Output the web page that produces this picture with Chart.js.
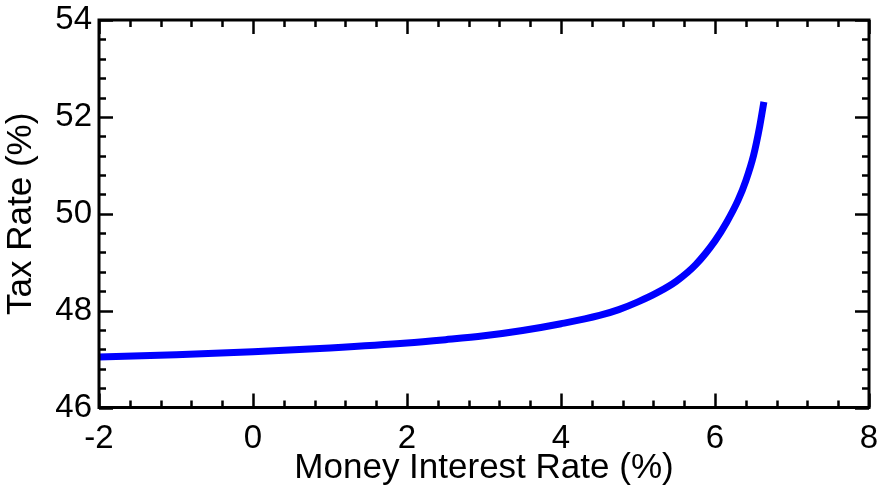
<!DOCTYPE html>
<html>
<head>
<meta charset="utf-8">
<script src="https://cdn.jsdelivr.net/npm/chart.js@4/dist/chart.umd.min.js"></script>
<style>
  html, body { margin: 0; padding: 0; background: #fff; }
  #wrap { width: 880px; height: 491px; }
</style>
</head>
<body>
<div id="wrap"><canvas id="c" width="880" height="491"></canvas></div>
<script>
// Money interest rate (%) and the corresponding tax rate (%)
const interestRate = [-2, -1, 0, 1, 2, 2.5, 3, 3.5, 4, 4.5, 4.75, 5, 5.25, 5.5, 5.75, 6, 6.15, 6.3, 6.4, 6.5, 6.58, 6.635];
const taxRate      = [47.04, 47.09, 47.15, 47.23, 47.33, 47.40, 47.48, 47.59, 47.73, 47.90, 48.02, 48.18, 48.37, 48.61, 48.95, 49.44, 49.82, 50.28, 50.68, 51.20, 51.80, 52.31];

const xTicks = [-2, 0, 2, 4, 6, 8];
const yTicks = [46, 48, 50, 52, 54];

const FONT = '"Liberation Sans", Arial, sans-serif';

// Frame with inward major/minor ticks on all four sides
const framePlugin = {
  id: 'frame',
  afterDraw(chart) {
    const { ctx, chartArea: a, scales: { x, y } } = chart;
    ctx.save();
    ctx.strokeStyle = '#000';
    ctx.lineWidth = 2.5;
    ctx.lineCap = 'butt';
    const majorLen = 14, minorLen = 7;
    ctx.beginPath();
    for (let i = 0; i <= 25; i++) {
      const v = -2 + i * 0.4;
      const px = Math.round(x.getPixelForValue(v)) + 0.5;
      const len = (i % 5 === 0) ? majorLen : minorLen;
      ctx.moveTo(px, a.bottom); ctx.lineTo(px, a.bottom - len);
      ctx.moveTo(px, a.top); ctx.lineTo(px, a.top + len);
    }
    for (let i = 0; i <= 20; i++) {
      const v = 46 + i * 0.4;
      const py = Math.round(y.getPixelForValue(v)) + 0.5;
      const len = (i % 5 === 0) ? majorLen : minorLen;
      ctx.moveTo(a.left, py); ctx.lineTo(a.left + len, py);
      ctx.moveTo(a.right, py); ctx.lineTo(a.right - len, py);
    }
    ctx.stroke();
    ctx.lineWidth = 3;
    ctx.strokeRect(a.left, a.top, a.right - a.left, a.bottom - a.top);
    ctx.restore();
  }
};

new Chart(document.getElementById('c'), {
  type: 'line',
  data: {
    datasets: [{
      data: interestRate.map((v, i) => ({ x: v, y: taxRate[i] })),
      borderColor: '#0000ff',
      borderWidth: 7,
      pointRadius: 0,
      fill: false,
      cubicInterpolationMode: 'monotone',
      borderCapStyle: 'butt'
    }]
  },
  options: {
    responsive: false,
    animation: false,
    layout: { padding: { top: 20, right: 11, left: 0, bottom: 0 } },
    plugins: { legend: { display: false }, tooltip: { enabled: false } },
    scales: {
      x: {
        type: 'linear',
        min: -2, max: 8,
        afterBuildTicks(s) { s.ticks = xTicks.map(v => ({ value: v })); },
        afterFit(s) { s.height = 83.5; s.paddingLeft = 0; s.paddingRight = 0; },
        grid: { display: false, drawTicks: false },
        border: { display: false },
        ticks: { color: '#000', font: { family: FONT, size: 33 }, padding: 12, maxRotation: 0 },
        title: { display: true, text: 'Money Interest Rate (%)', color: '#000', font: { family: FONT, size: 35 }, padding: { top: 0, bottom: 2 } }
      },
      y: {
        min: 46, max: 54,
        afterBuildTicks(s) { s.ticks = yTicks.map(v => ({ value: v })); },
        afterFit(s) { s.width = 99; s.paddingTop = 0; s.paddingBottom = 0; },
        grid: { display: false, drawTicks: false },
        border: { display: false },
        ticks: { color: '#000', font: { family: FONT, size: 33 }, padding: 7 },
        title: { display: true, text: 'Tax Rate (%)', color: '#000', font: { family: FONT, size: 35 }, padding: { top: 0, bottom: 0 } }
      }
    }
  },
  plugins: [framePlugin]
});
</script>
</body>
</html>
